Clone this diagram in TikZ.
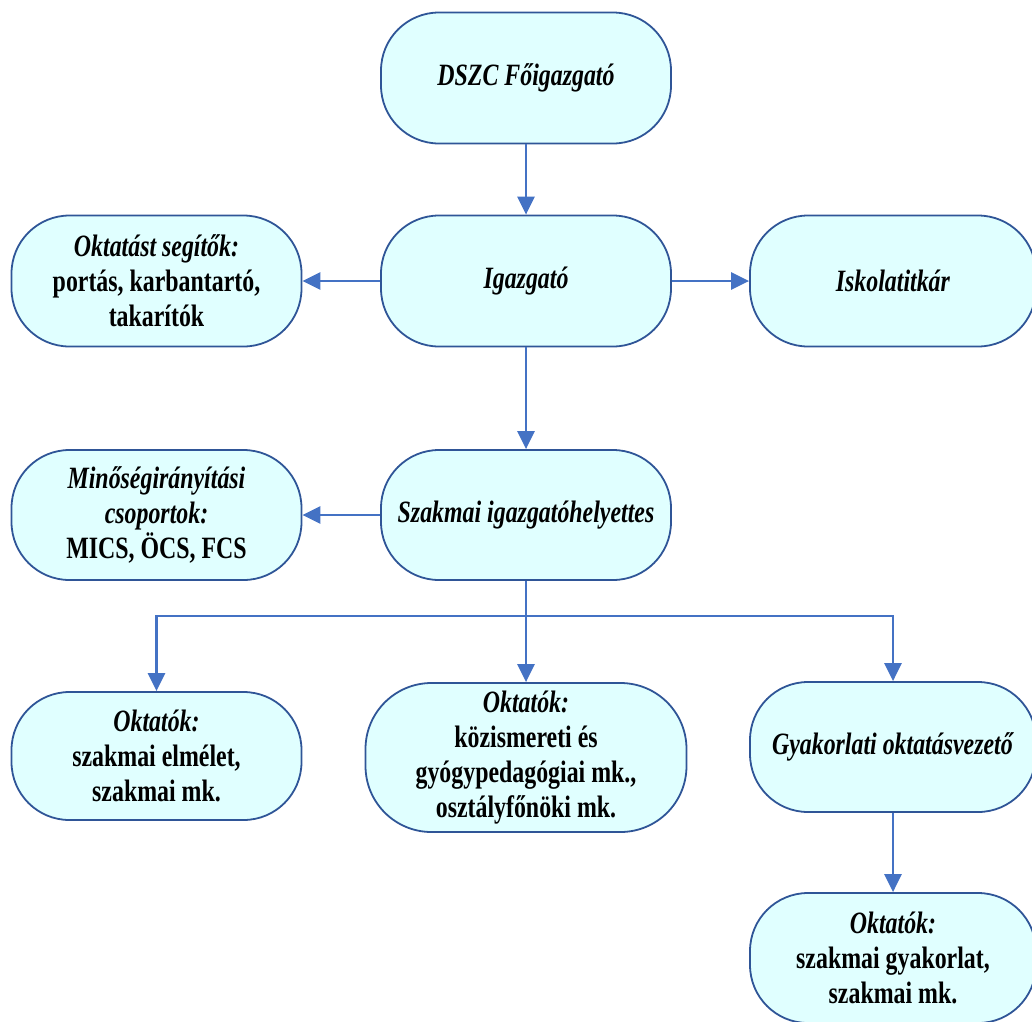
\documentclass[tikz,border=0pt]{standalone}
\usepackage{fontspec}
\setmainfont{Liberation Serif}[FakeStretch=0.77]
\usetikzlibrary{arrows.meta,positioning}
\definecolor{chartline}{HTML}{4472C4}
\definecolor{chartedge}{HTML}{2F5597}
\definecolor{chartfill}{HTML}{E0FFFF}

\begin{document}
\begin{tikzpicture}[x=1pt,y=-1pt,font=\fontsize{31}{35}\selectfont\bfseries,
    box/.style={draw=chartedge,fill=chartfill,line width=1.8pt,rounded corners=58pt,
      align=center,inner sep=0pt,minimum width=290pt,minimum height=131pt},
    link/.style={draw=chartline,line width=2.5pt,-{Triangle[length=18pt,width=17pt]}}]
  \useasboundingbox (0,0) rectangle (1032,1021);

  % top of the chart
  \node[box] (foigazgato) at (526,78) {\textit{DSZC Főigazgató}};
  \node[box] (igazgato) at (526,281) {\textit{Igazgató}};
  \node[box] (segitok) at (156.5,281) {\textit{Oktatást segítők:}\\portás, karbantartó,\\takarítók};
  \node[box,minimum width=286pt] (titkar) at (893,281) {\textit{Iskolatitkár}};

  % deputy and quality groups
  \node[box,minimum height=130pt] (helyettes) at (526,515) {\textit{Szakmai igazgatóhelyettes}};
  \node[box,minimum height=130pt] (minoseg) at (156.5,515) {\textit{Minőségirányítási}\\\textit{csoportok:}\\MICS, ÖCS, FCS};

  % teachers
  \node[box,minimum height=128pt] (elmelet) at (156.5,756) {\textit{Oktatók:}\\szakmai elmélet,\\szakmai mk.};
  \node[box,minimum width=321pt,minimum height=149pt,rounded corners=66pt] (kozism) at (526,757.5)
    {\textit{Oktatók:}\\közismereti és\\gyógypedagógiai mk.,\\osztályfőnöki mk.};
  \node[box,minimum width=286pt,minimum height=130pt] (gyakvez) at (893,747) {\textit{Gyakorlati oktatásvezető}};
  \node[box,minimum width=286pt,minimum height=130pt] (gyakorlat) at (893,958) {\textit{Oktatók:}\\szakmai gyakorlat,\\szakmai mk.};

  \coordinate (elosztas) at (526,616);

  \draw[link] (foigazgato) -- (igazgato);
  \draw[link] (igazgato) -- (segitok);
  \draw[link] (igazgato) -- (titkar);
  \draw[link] (igazgato) -- (helyettes);
  \draw[link] (helyettes) -- (minoseg);
  \draw[link] (helyettes) -- (kozism);
  \draw[link] (elosztas) -| (elmelet);
  \draw[link] (elosztas) -| (gyakvez);
  \draw[link] (gyakvez) -- (gyakorlat);
\end{tikzpicture}
\end{document}
